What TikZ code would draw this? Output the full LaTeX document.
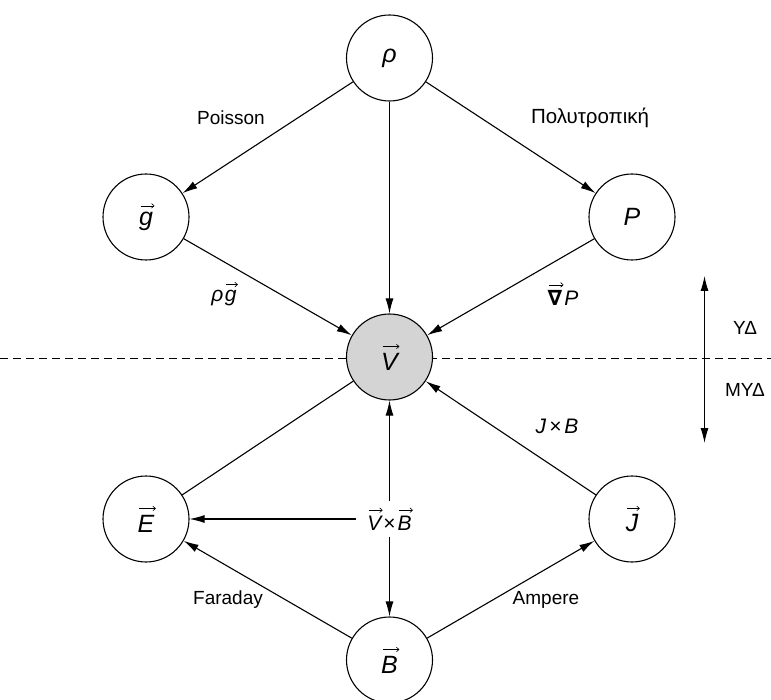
\documentclass[tikz,border=0pt]{standalone}
\usepackage{fontspec}
\setmainfont{Liberation Sans}
\newfontfamily\djv{DejaVu Sans}
\usetikzlibrary{arrows.meta}
\newlength\vecw
\newcommand\vecx[1]{\begingroup\setbox0\hbox{#1}\setlength\vecw{\wd0}\vbox{\offinterlineskip\hbox to\wd0{\hss\kern.13em\tikz[baseline=0pt]\draw[line width=0.6pt,-{Straight Barb[length=2.6pt,width=4.6pt]}](0pt,0pt)--(\vecw,0pt);\hss}\kern.15em\box0}\endgroup}
\begin{document}
\begin{tikzpicture}[x=1pt,y=-1pt,
  circ/.style={circle,draw,line width=1.1pt,minimum size=86pt,inner sep=0pt,font=\fontsize{25}{28}\selectfont},
  lab/.style={font=\fontsize{19}{22}\selectfont},
  mlab/.style={font=\fontsize{21}{24}\selectfont},
  arr/.style={line width=1.1pt,-{Latex[length=15pt,width=8pt]}},
  ln/.style={line width=1.1pt}]
\useasboundingbox (0,0) rectangle (771,700);
\draw[line width=0.9pt,dash pattern=on 8pt off 5pt] (0,358) coordinate (dl) -- (771,358) coordinate (dr);
\node[circ] (rho) at (389.5,58) {\itshape ρ};
\node[circ] (g) at (146,217) {\vecx{\itshape g}};
\node[circ] (P) at (632,217) {\itshape P};
\node[circ,fill={rgb,255:red,212;green,212;blue,212}] (V) at (389.5,357) {\vecx{\itshape V}};
\node[circ] (E) at (146,519) {\vecx{\itshape E}};
\node[circ] (J) at (632,519) {\vecx{\itshape J}};
\node[circ] (B) at (389.5,660) {\vecx{\itshape B}};
\node[mlab,inner xsep=11pt,inner ysep=6pt] (vxb) at (389.5,519) {\vecx{\itshape V}\kern2pt×\kern2pt\vecx{\itshape B}};
\node[lab] (poisson) at (231,118) {Poisson};
\node[lab,font=\fontsize{20.5}{24}\selectfont] (poly) at (590,118) {Πολυτροπική};
\node[mlab] (rg) at (224,294) {\itshape ρ\kern1.5pt\vecx{\itshape g}};
\node[mlab] (gp) at (563,294) {\vecx{\djv\bfseries ∇}\kern2pt\itshape P};
\node[mlab] (jxb) at (557,426) {\itshape J\kern3pt×\kern3pt B};
\node[lab] (far) at (228,600) {Faraday};
\node[lab] (amp) at (546,600) {Ampere};
\node[lab] (yd) at (745,328) {ΥΔ};
\node[lab] (myd) at (745,390) {ΜΥΔ};
\coordinate (at) at (704.5,276);
\coordinate (ab) at (704.5,443);
\draw[line width=1.1pt,{Latex[length=15pt,width=8pt]}-{Latex[length=15pt,width=8pt]}] (at) -- (ab);
\draw[arr] (rho) -- (g);
\draw[arr] (rho) -- (V);
\draw[arr] (rho) -- (P);
\draw[arr] (g) -- (V);
\draw[arr] (P) -- (V);
\draw[ln] (V) -- (E);
\draw[arr] (J) -- (V);
\draw[arr] (vxb) -- (V);
\draw[arr] (vxb) -- (E);
\draw[arr] (vxb) -- (B);
\draw[arr] (B) -- (E);
\draw[arr] (B) -- (J);
\end{tikzpicture}
\end{document}
